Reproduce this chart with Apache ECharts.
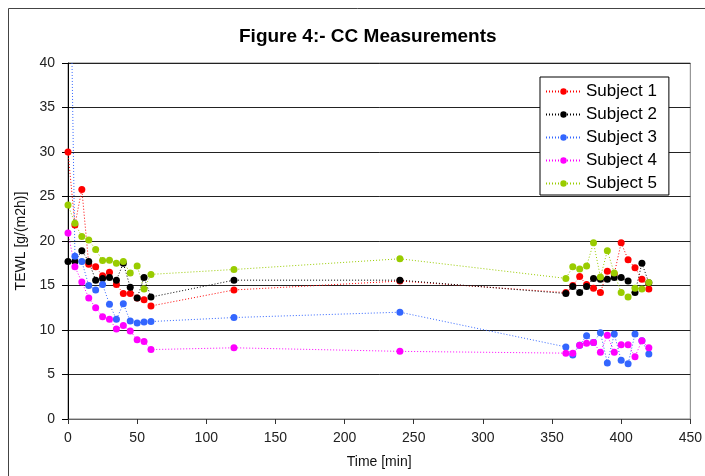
<!DOCTYPE html>
<html>
<head>
<meta charset="utf-8">
<script src="https://cdn.jsdelivr.net/npm/echarts@6/dist/echarts.min.js"></script>
<style>
html,body{margin:0;padding:0;background:#fff;}
#c{width:705px;height:476px;}
</style>
</head>
<body>
<div id="c"></div>
<script>
const times = [0,5,10,15,20,25,30,35,40,45,50,55,60,120,240,360,365,370,375,380,385,390,395,400,405,410,415,420];
const subject1 = [30.0,21.8,25.8,17.4,17.1,16.1,16.5,15.1,14.1,14.1,13.6,13.4,12.7,14.5,15.5,14.2,15.0,16.0,15.1,14.7,14.2,16.6,16.3,19.8,17.9,17.0,15.7,14.6];
const subject2 = [17.7,17.7,18.9,17.7,15.6,15.8,15.9,15.6,17.5,14.8,13.6,15.9,13.7,15.6,15.6,14.1,14.9,14.2,14.9,15.8,15.7,15.7,15.9,15.9,15.5,14.2,17.5,15.3];
const subject3 = [70.0,18.3,17.7,15.0,14.5,15.1,12.9,11.2,12.95,11.0,10.8,10.9,10.95,11.4,12.0,8.1,7.2,8.3,9.36,8.6,9.7,6.3,9.55,6.6,6.2,9.55,8.8,7.3];
const subject4 = [20.9,17.1,15.4,13.6,12.5,11.5,11.2,10.1,10.5,9.9,8.9,8.7,7.8,8.0,7.6,7.4,7.4,8.3,8.5,8.6,7.5,9.4,7.5,8.35,8.35,7.0,8.8,8.0];
const subject5 = [24.05,22.0,20.5,20.1,19.05,17.8,17.85,17.5,17.7,16.4,17.2,14.6,16.25,16.8,18.0,15.8,17.1,16.85,17.2,19.8,15.95,18.9,16.4,14.2,13.7,14.7,14.6,15.35];
const seriesNames = ['Subject 1','Subject 2','Subject 3','Subject 4','Subject 5'];
const seriesValues = [subject1,subject2,subject3,subject4,subject5];
const colors = ['#FF0000','#000000','#3366FF','#FF00FF','#99CC00'];

const font = 'Liberation Sans, Arial, sans-serif';
const chart = echarts.init(document.getElementById('c'), null, {renderer:'canvas'});
chart.setOption({
  backgroundColor:'#ffffff',
  animation:false,
  textStyle:{fontFamily:font},
  graphic:[{type:'rect',left:6,top:6,shape:{width:740,height:520},style:{fill:'none',stroke:'#444',lineWidth:1},z:-1,silent:true}],
  title:{text:'Figure 4:- CC Measurements',left:239,top:27,padding:0,
    textStyle:{fontFamily:font,fontSize:19,fontWeight:'bold',color:'#000'}},
  grid:{left:68,right:10,top:63,bottom:57,show:true,borderColor:'#808080',borderWidth:1,backgroundColor:'#fff'},
  legend:{orient:'vertical',left:540,top:77,padding:[6,12,3,5],itemGap:6,itemWidth:35,itemHeight:8,
    backgroundColor:'#fff',borderColor:'#000',borderWidth:1,borderRadius:0,
    textStyle:{fontFamily:font,fontSize:17,color:'#000',lineHeight:17},
    data:seriesNames},
  xAxis:{type:'value',min:0,max:450,interval:50,
    name:'Time [min]',nameLocation:'middle',nameGap:36,
    nameTextStyle:{fontFamily:font,fontSize:14,color:'#111'},
    axisLine:{show:true,lineStyle:{color:'#666',width:1}},
    axisTick:{show:true,length:5,lineStyle:{color:'#333'}},
    axisLabel:{fontFamily:font,fontSize:14,color:'#222',margin:12},
    splitLine:{show:false}},
  yAxis:{type:'value',min:0,max:40,interval:5,
    name:'TEWL [g/(m2h)]',nameLocation:'middle',nameGap:39,
    nameTextStyle:{fontFamily:font,fontSize:14,color:'#111'},
    axisLine:{show:true,lineStyle:{color:'#000',width:1}},
    axisTick:{show:true,length:6,lineStyle:{color:'#000'}},
    axisLabel:{fontFamily:font,fontSize:14,color:'#222',margin:13},
    splitLine:{show:true,lineStyle:{color:'#222',width:1}}},
  series:seriesNames.map((n,i)=>({
    name:n,type:'line',
    data:times.map((t,k)=>[t,seriesValues[i][k]]),
    symbol:'circle',symbolSize:7,showAllSymbol:true,clip:true,
    itemStyle:{color:colors[i]},
    lineStyle:{color:colors[i],width:1,type:[1,2]}
  }))
});
</script>
</body>
</html>
